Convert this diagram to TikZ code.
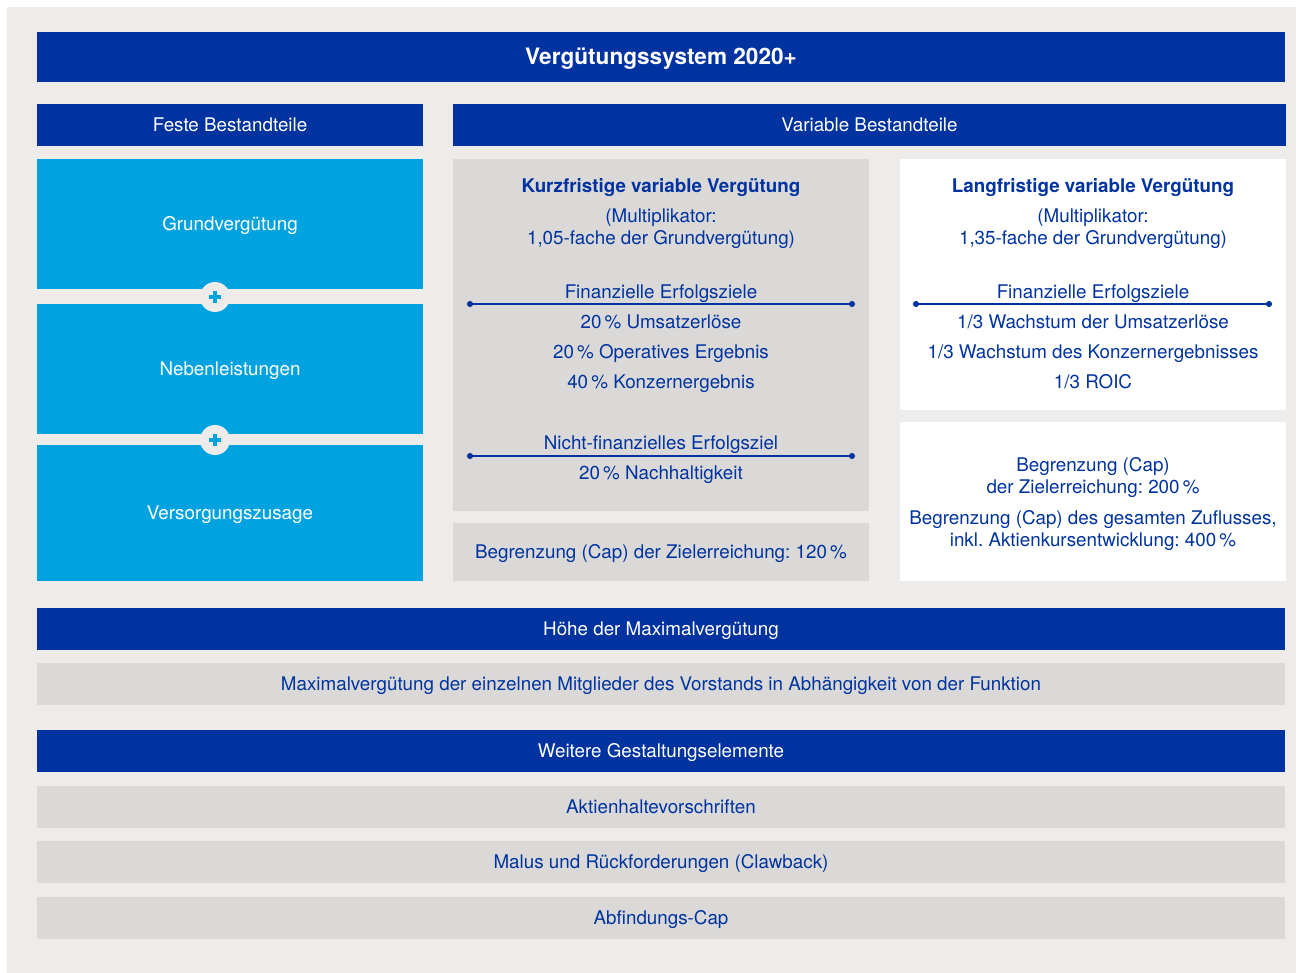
\documentclass[tikz,border=0pt]{standalone}
\usepackage{fontspec}
\setmainfont{TeX Gyre Heros}
\frenchspacing
\usetikzlibrary{arrows.meta}
\definecolor{dunkelblau}{HTML}{0033A0}
\definecolor{hellblau}{HTML}{00A3DF}
\definecolor{grau}{HTML}{DAD9D7}
\definecolor{hintergrund}{HTML}{EDECEA}
\newcommand{\normalschrift}{\fontsize{9.4}{11}\selectfont}
\tikzset{
  >=Circle,
  kopf/.style={fill=dunkelblau, text=white, inner sep=0, minimum height=21pt,
    text height=6.6pt, text depth=0pt, font=\normalschrift},
  kachel/.style={fill=hellblau, text=white, inner sep=0, minimum width=193pt,
    text height=6.6pt, text depth=0pt, font=\normalschrift},
  feld/.style={fill=grau, text=dunkelblau, inner sep=0, minimum width=624pt, minimum height=21pt,
    text height=6.6pt, text depth=0pt, font=\normalschrift},
  kasten/.style={inner sep=0, minimum width=#1},
  zeile/.style={text=dunkelblau, inner sep=0, text height=6.6pt, text depth=0pt, font=\normalschrift},
  fettzeile/.style={zeile, font=\normalschrift\bfseries},
  trenner/.style={dunkelblau, line width=0.75pt, {Circle[length=3pt]}-{Circle[length=3pt]}},
  plus/.style={circle, fill=hintergrund, minimum size=15pt, inner sep=0},
  pluszeichen/.style={hellblau, line width=1.8pt},
}
\begin{document}
\begin{tikzpicture}[x=0.5pt, y=-0.5pt]
    \useasboundingbox (0,0) rectangle (1296,973);
    \fill[white] (0,0) rectangle (1296,973);
    \fill[hintergrund] (7,7) rectangle (1296,973);
    % Kopfzeilen
    \node[kopf, minimum width=624pt, minimum height=25pt, text height=7.8pt,
      font=\fontsize{11.3}{13}\selectfont\bfseries] (titel) at (661,57) {Vergütungssystem 2020+};
    \node[kopf, minimum width=193pt] (feste) at (230,125) {Feste Bestandteile};
    \node[kopf, minimum width=416.5pt] (variable) at (869.5,125) {Variable Bestandteile};
    % feste Bestandteile
    \node[kachel, minimum height=65pt] (grund) at (230,224) {Grundvergütung};
    \node[kachel, minimum height=65pt] (neben) at (230,369) {Nebenleistungen};
    \node[kachel, minimum height=68pt] (versorgung) at (230,513) {Versorgungszusage};
    \foreach \name/\y in {plus1/297, plus2/440}{
        \node[plus] (\name) at (215,\y) {};
        \draw[pluszeichen] ([xshift=-3pt]\name.center) -- ([xshift=3pt]\name.center);
        \draw[pluszeichen] ([yshift=-3pt]\name.center) -- ([yshift=3pt]\name.center);
    }
    % kurzfristig
    \node[kasten=208pt, fill=grau, minimum height=176pt] (kurz) at (661,335) {};
    \node[kasten=208pt, fill=grau, minimum height=29pt, zeile] (kurzcap) at (661,552) {Begrenzung (Cap) der Zielerreichung: 120\,\%};
    \node[fettzeile] (kurztitel) at (661,186) {Kurzfristige variable Vergütung};
    \node[zeile] (kurzmult1) at (661,216) {(Multiplikator:};
    \node[zeile] (kurzmult2) at (661,238) {1,05-fache der Grundvergütung)};
    \node[zeile] (kurzfin) at (661,292) {Finanzielle Erfolgsziele};
    \coordinate (kurzlinks1) at (467,304);
    \coordinate (kurzrechts1) at (855,304);
    \draw[trenner] (kurzlinks1) -- (kurzrechts1);
    \node[zeile] (umsatz) at (661,322) {20\,\% Umsatzerlöse};
    \node[zeile] (operativ) at (661,352) {20\,\% Operatives Ergebnis};
    \node[zeile] (konzern) at (661,382) {40\,\% Konzernergebnis};
    \node[zeile] (nichtfin) at (661,443) {Nicht-finanzielles Erfolgsziel};
    \coordinate (kurzlinks2) at (467,456);
    \coordinate (kurzrechts2) at (855,456);
    \draw[trenner] (kurzlinks2) -- (kurzrechts2);
    \node[zeile] (nachhaltig) at (661,473) {20\,\% Nachhaltigkeit};
    % langfristig
    \node[kasten=193pt, fill=white, minimum height=125.5pt] (lang) at (1093,284.5) {};
    \node[kasten=193pt, fill=white, minimum height=79.5pt] (langcap) at (1093,501.5) {};
    \node[fettzeile] (langtitel) at (1093,186) {Langfristige variable Vergütung};
    \node[zeile] (langmult1) at (1093,216) {(Multiplikator:};
    \node[zeile] (langmult2) at (1093,238) {1,35-fache der Grundvergütung)};
    \node[zeile] (langfin) at (1093,292) {Finanzielle Erfolgsziele};
    \coordinate (langlinks) at (913,304);
    \coordinate (langrechts) at (1272,304);
    \draw[trenner] (langlinks) -- (langrechts);
    \node[zeile] (wachstum1) at (1093,322) {1/3 Wachstum der Umsatzerlöse};
    \node[zeile] (wachstum2) at (1093,352) {1/3 Wachstum des Konzernergebnisses};
    \node[zeile] (roic) at (1093,382) {1/3 ROIC};
    \node[zeile] (cap1) at (1093,465) {Begrenzung (Cap)};
    \node[zeile] (cap2) at (1093,487) {der Zielerreichung: 200\,\%};
    \node[zeile] (cap3) at (1093,518) {Begrenzung (Cap) des gesamten Zuflusses,};
    \node[zeile] (cap4) at (1093,540) {inkl. Aktienkursentwicklung: 400\,\%};
    % unten
    \node[kopf, minimum width=624pt] (hoehe) at (661,629) {Höhe der Maximalvergütung};
    \node[feld] (maximal) at (661,684) {Maximalvergütung der einzelnen Mitglieder des Vorstands in Abhängigkeit von der Funktion};
    \node[kopf, minimum width=624pt] (weitere) at (661,751) {Weitere Gestaltungselemente};
    \node[feld] (aktien) at (661,807) {Aktienhaltevorschriften};
    \node[feld] (malus) at (661,862) {Malus und Rückforderungen (Clawback)};
    \node[feld] (abfindung) at (661,918) {Abfindungs-Cap};
\end{tikzpicture}
\end{document}
